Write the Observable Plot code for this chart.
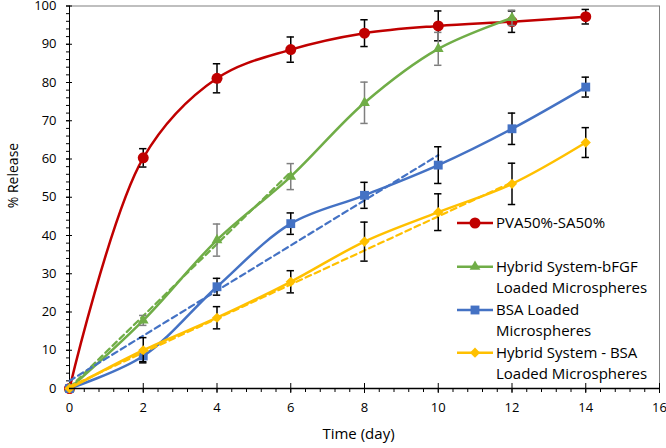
<!DOCTYPE html>
<html><head><meta charset="utf-8">
<script src="https://cdn.jsdelivr.net/npm/d3@7"></script>
<script src="https://cdn.jsdelivr.net/npm/@observablehq/plot@0.6"></script>
<style>
body{margin:0;background:#fff;}
#wrap{position:relative;width:666px;height:448px;font-family:"Open Sans",sans-serif;}
#legend{position:absolute;left:0;top:0;}
</style></head><body><div id="wrap"></div>
<script>
// ---- data ----
const days = [0,2,4,6,8,10,12,14];
const pvaY   = [0,60.3,81.1,88.6,92.9,94.8,95.9,97.2];
const pvaErr = [0,2.4,3.8,3.3,3.5,3.9,2.8,1.9];
const bfgfDays = [0,2,4,6,8,10,12];
const bfgfY    = [0,17.8,38.8,55.4,74.7,88.8,96.9];
const bfgfErr  = [0,1.3,4.2,3.4,5.4,4.3,2.0];
const bsaY   = [0,8.5,26.6,43.1,50.5,58.4,67.9,78.8];
const bsaErr = [0,1.5,2.2,2.8,3.4,4.8,4.1,2.6];
const hybY   = [0,10.0,18.5,27.9,38.4,46.1,53.5,64.3];
const hybErr = [0,3.3,2.9,2.9,5.1,4.8,5.4,3.9];
// linear trend lines (dashed): end points
const bfgfTrendX = [0,6],  bfgfTrendY = [0.2,56.6];
const bsaTrendX  = [0,10], bsaTrendY  = [2.0,61.0];
const hybTrendX  = [0,12], hybTrendY  = [0.5,53.9];
const seriesNames = ["PVA50%-SA50%", "Hybrid System-bFGF\nLoaded Microspheres", "BSA Loaded\nMicrospheres", "Hybrid System - BSA\nLoaded Microspheres"];
const colors = ["#C00000", "#70AD47", "#4472C4", "#FFC000"];
const errColors = ["#000", "#7F7F7F", "#000", "#000"];
const symbols = ["circle", "triangle", "square", "diamond2"];
const symbolR = [5.5, 4, 5, 4.6];
const xTicks = [0,2,4,6,8,10,12,14,16];
const yTicks = [0,10,20,30,40,50,60,70,80,90,100];
const xMinor = d3.range(0, 41).map(i => i * 0.4);
const yMinor = d3.range(0, 51).map(i => i * 2);

const mk = (xs, ys, es) => xs.map((x, i) => ({x, y: ys[i], e: es ? es[i] : 0}));
const series = [
  mk(days, pvaY, pvaErr),
  mk(bfgfDays, bfgfY, bfgfErr),
  mk(days, bsaY, bsaErr),
  mk(days, hybY, hybErr)
];
const trends = [null, mk(bfgfTrendX, bfgfTrendY), mk(bsaTrendX, bsaTrendY), mk(hybTrendX, hybTrendY)];

const marks = [
  Plot.frame({stroke: "#808080", strokeWidth: 1}),
  // minor ticks
  Plot.axisY({ticks: yMinor, tickSize: 3, text: null, label: null, stroke: "#000"}),
  Plot.axisX({ticks: xMinor, tickSize: 4, text: null, label: null, stroke: "#000"}),
  // major ticks crossing the axis
  Plot.axisY({ticks: yTicks, tickSize: 6, dx: 3, text: null, label: null, stroke: "#000"}),
  Plot.axisX({ticks: xTicks, tickSize: 10, dy: -5, text: null, label: null, stroke: "#000"}),
  // tick labels
  Plot.axisY({ticks: yTicks, tickSize: 0, tickPadding: 13, label: null, fill: "#000", fontSize: 13}),
  Plot.axisX({ticks: xTicks, tickSize: 0, tickPadding: 14, label: null, fill: "#000", fontSize: 13}),
  Plot.ruleX([0], {stroke: "#000", strokeWidth: 1}),
  Plot.text(["Time (day)"], {frameAnchor: "bottom", dy: 50, dx: -6, fontSize: 15, fill: "#000"}),
  Plot.text(["% Release"], {frameAnchor: "left", rotate: -90, dx: -56, dy: 11, fontSize: 14, fill: "#000"})
];
series.forEach((s, k) => {
  if (trends[k]) marks.push(Plot.line(trends[k], {x: "x", y: "y", stroke: colors[k], strokeWidth: 2.2, strokeDasharray: "6,4"}));
  marks.push(Plot.line(s, {x: "x", y: "y", stroke: colors[k], strokeWidth: 2.5, curve: "catmull-rom"}));
  const eb = s.filter(d => d.e > 0);
  marks.push(Plot.ruleX(eb, {x: "x", y1: d => d.y - d.e, y2: d => d.y + d.e, stroke: errColors[k], strokeWidth: 1.5}));
  marks.push(Plot.ruleY(eb, {y: d => d.y + d.e, x1: d => d.x - 0.1, x2: d => d.x + 0.1, stroke: errColors[k], strokeWidth: 1.5}));
  marks.push(Plot.ruleY(eb, {y: d => d.y - d.e, x1: d => d.x - 0.1, x2: d => d.x + 0.1, stroke: errColors[k], strokeWidth: 1.5}));
  marks.push(Plot.dot(s, {x: "x", y: "y", fill: colors[k], stroke: "none", symbol: symbols[k], r: symbolR[k]}));
});
marks.push(Plot.ruleY([0], {stroke: "#000", strokeWidth: 1.6}));

const chart = Plot.plot({
  width: 666, height: 448,
  marginLeft: 69, marginRight: 7, marginTop: 5.5, marginBottom: 60,
  x: {domain: [0, 16]},
  y: {domain: [0, 100]},
  style: {fontFamily: "'Open Sans', sans-serif", fontSize: "13px", color: "#000", background: "#fff"},
  marks
});
document.getElementById("wrap").appendChild(chart);

// legend overlay
const lg = d3.select("#wrap").append("svg").attr("id", "legend").attr("width", 666).attr("height", 448);
const legendY = [223, 266.7, 310, 352.7];
const symMap = {circle: d3.symbolCircle, triangle: d3.symbolTriangle, square: d3.symbolSquare, diamond2: d3.symbolDiamond2};
seriesNames.forEach((name, k) => {
  const g = lg.append("g").attr("transform", `translate(0,${legendY[k]})`);
  g.append("line").attr("x1", 457).attr("x2", 493).attr("y1", 0).attr("y2", 0).attr("stroke", colors[k]).attr("stroke-width", 2.5);
  const sz = Math.PI * symbolR[k] * symbolR[k];
  g.append("path").attr("transform", "translate(475,0)").attr("d", d3.symbol(symMap[symbols[k]], sz)()).attr("fill", colors[k]);
  name.split("\n").forEach((line, i) => {
    g.append("text").attr("x", 496).attr("y", i * 21).attr("dy", "0.35em").attr("font-size", 15).attr("font-family", "'Open Sans', sans-serif").attr("fill", "#000").text(line);
  });
});
</script></body></html>
